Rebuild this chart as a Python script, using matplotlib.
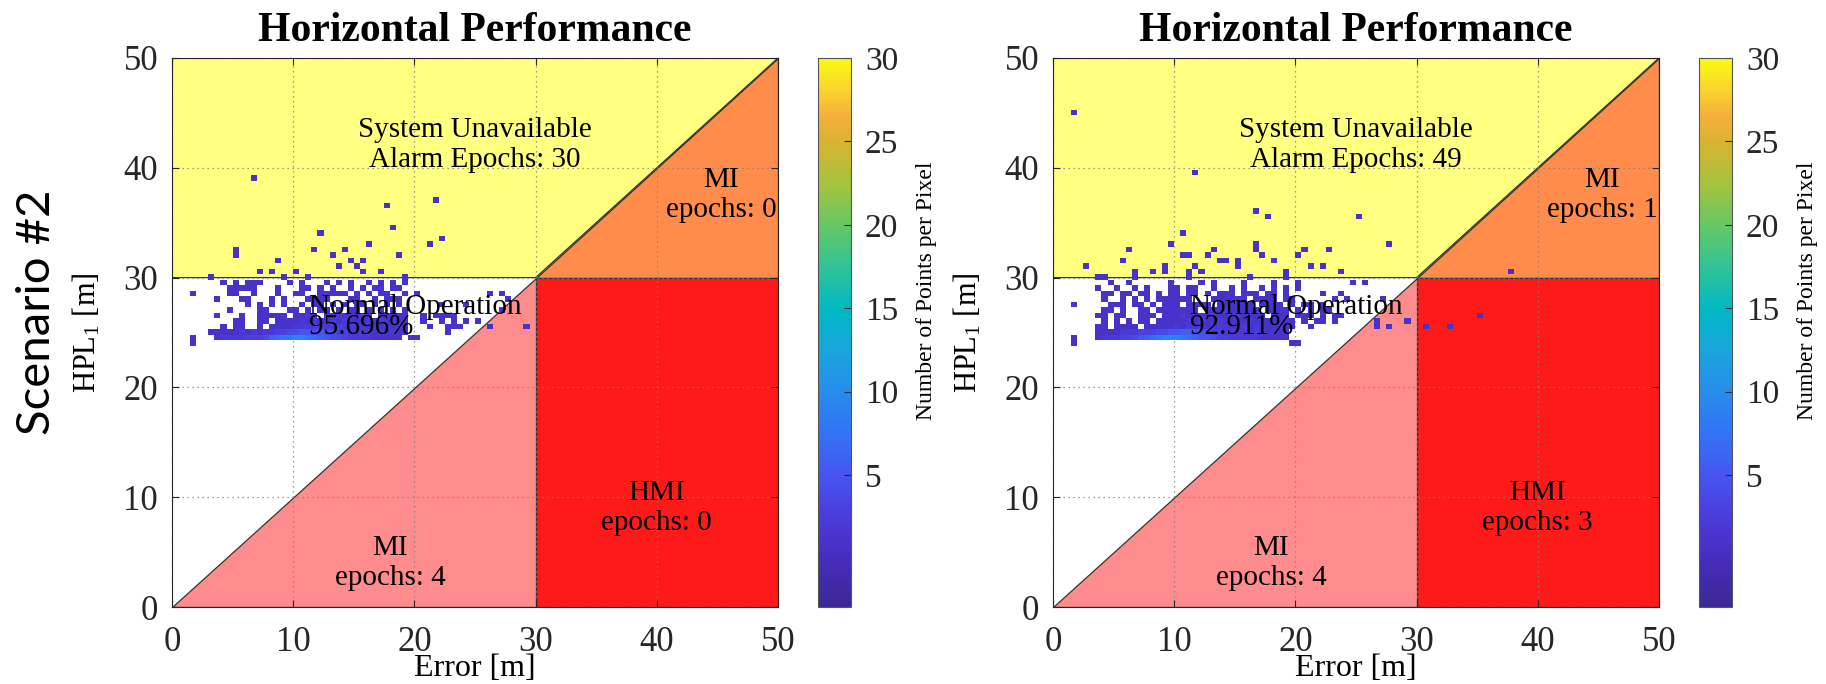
import numpy as np
import matplotlib
matplotlib.use('Agg')
import matplotlib.pyplot as plt
from matplotlib.colors import LinearSegmentedColormap, Normalize
from matplotlib.patches import Polygon

plt.rcParams['font.family'] = 'Liberation Serif'
plt.rcParams['mathtext.fontset'] = 'custom'
plt.rcParams['mathtext.rm'] = 'Liberation Serif'
plt.rcParams['mathtext.it'] = 'Liberation Serif:italic'

# ---- data ----------------------------------------------------------------
# dense part of the density plot: one string per HPL row, one char per 0.5 m
# error bin starting at 0 m ('.' = empty, digit = points in that pixel)
row_y = [30.0, 29.5, 29.0, 28.5, 28.0, 27.5, 27.0, 26.5, 26.0, 25.5, 25.0, 24.5, 24.0]

left_rows = [
    "......1..." "........1." "..1......." "........1." ".........." "..........",
    "........1." "1.111....1" ".1...1.1.1" "..1.1.1.1." ".........." "..........",
    ".........1" "1111...1.." ".11.1.1..1" ".1.11.11.." ".........." "..........",
    "...1.....1" "1..1...1.." "11..11111." "1.1.11..1." "1........." "..1.1.....",
    ".......1.." ".11...1.1." "..1111...1" "1..1.111.." ".........." ".....1....",
    ".........." "..1.1.1.1." ".1.11.1.1." "11.1.1.1.." "....1...1." "..........",
    ".........1" "....11...1" "1.1.11.1.1" "1.1.1.1.1." ".........." "....1.....",
    ".......1.." ".1..11111." "1121.11211" "121.11111." ".1.1111..." "..........",
    ".........." "11..11.111" "1212112121" "112121211." ".1..1.1.1." "1.........",
    "........1." "11..1.1111" "2222322322" "221212121." "..1..111.." "..1.....1.",
    "......1111" "1212122334" "4554544332" "222121211." ".....1...." "..........",
    "...1...122" "2233346788" "9987654432" "22211111.1" "1........." "..........",
    "...1......" ".........." ".........." ".........." ".........." "..........",
]

right_rows = [
    ".......11." "...1......" "..1......." "..1.....1." ".........." "..........",
    ".........1" "..1......1" "....1.1..." ".1....1..." "1........1" ".1........",
    ".......1.." "1..1.1...1" "1.11..1..1" ".1..1.1.1." "1........." "..........",
    "........11" ".11.11.1.1" "1.11.1.111" ".111.11.1." "....1..1.." "..........",
    "........1." ".1.1.1.111" "111...1111" "11.1111.11" "......1.1." "....1.....",
    "...1.....1" "11.11.1.11" "1.1111.111" "111.1111.1" ".11.1....." "..........",
    "........11" ".1..11.111" "1111.11121" "1111.1111." "1.1.11...." "..........",
    ".......11." "11..111.11" "1211112111" "21111.211." "111.1.11.." "..........",
    "........1." "1.1.11.111" "1121211211" "1121111111" ".1.11.1..." "...1....1.",
    ".......11." "1111.11111" "2122212221" "1212111211" "..1......." "...1.1....",
    ".......111" "1222333445" "5665543322" "222211111." ".........." "..........",
    "...1...122" "2334567899" "9876554332" "222211111." ".........." "..........",
    "...1......" ".........." ".........." ".........1" "1........." "..........",
]

# isolated pixels (error, HPL) in the alarm / MI / HMI regions
left_sparse_x = [6.7, 17.8, 18.3, 12.2, 16.3, 5.2, 5.2, 11.8, 14.2, 13.3, 18.8, 8.7,
                 14.8, 15.3, 15.8, 13.75, 7.3, 8.25, 10.2, 15.8, 17.3, 21.2, 21.8, 22.3]
left_sparse_y = [39.1, 36.6, 34.6, 34.1, 33.1, 32.6, 32.1, 32.6, 32.6, 32.1, 32.1, 31.6,
                 31.6, 31.1, 31.6, 31.1, 30.6, 30.6, 30.6, 30.6, 30.6, 33.1, 37.1, 33.6]

right_sparse_x = [1.8, 11.8, 16.8, 17.9, 25.4, 10.8, 9.8, 16.8, 16.8, 27.9, 6.3, 13.3,
                  20.9, 22.9, 10.8, 11.2, 12.8, 20.3, 17.3, 18.0, 18.4, 5.7, 13.9, 14.3,
                  15.4, 15.4, 2.6, 9.3, 9.3, 11.8, 21.4, 22.4, 6.85, 8.4, 11.2, 12.3,
                  19.4, 23.9, 37.5, 30.9, 32.9, 35.0]
right_sparse_y = [45.1, 39.7, 36.2, 35.6, 35.6, 34.1, 33.1, 33.1, 32.6, 33.1, 32.6, 32.6,
                  32.6, 32.6, 32.1, 32.1, 32.1, 32.1, 32.1, 31.6, 31.6, 31.6, 31.6, 31.6,
                  31.6, 31.1, 31.1, 31.1, 30.6, 31.1, 31.1, 31.1, 30.6, 30.6, 30.6, 30.6,
                  30.6, 30.6, 30.6, 25.6, 25.6, 26.6]

alarm_epochs = [30, 49]
mi_upper_epochs = [0, 1]
hmi_epochs = [0, 3]
mi_lower_epochs = [4, 4]
normal_pct = ['95.696%', '92.911%']

ALERT_LIMIT = 30
AX_MAX = 50
CBAR_MIN, CBAR_MAX = -2.9, 30
cbar_ticks = [5, 10, 15, 20, 25, 30]

# parula-like colormap
_stops = [(-2.9, (60, 40, 150)), (0, (70, 45, 190)), (2.5, (75, 60, 220)),
          (5, (70, 85, 240)), (7.5, (50, 115, 245)), (10, (40, 140, 235)),
          (12.5, (25, 165, 220)), (15, (0, 185, 195)), (17.5, (50, 195, 150)),
          (20, (100, 200, 100)), (22.5, (165, 195, 60)), (25, (215, 180, 50)),
          (26.5, (245, 175, 60)), (28, (250, 210, 45)), (30, (248, 250, 20))]
parula = LinearSegmentedColormap.from_list(
    'parula_like',
    [((v - CBAR_MIN) / (CBAR_MAX - CBAR_MIN), tuple(c / 255 for c in rgb)) for v, rgb in _stops])


def to_points(rows, sx, sy):
    xs, ys, cs = [], [], []
    for y, s in zip(row_y, rows):
        for i, ch in enumerate(s):
            if ch != '.':
                xs.append(0.25 + 0.5 * i)
                ys.append(y)
                cs.append(int(ch, 36))
    xs += sx
    ys += sy
    cs += [1] * len(sx)
    return np.array(xs), np.array(ys), np.array(cs)


def draw_panel(ax, cax, rows, sx, sy, k):
    L, M = ALERT_LIMIT, AX_MAX
    regions = [
        ([(0, L), (L, L), (M, M), (0, M)], '#FFFF80'),   # system unavailable
        ([(L, L), (M, L), (M, M)], '#FF8C4B'),            # MI (above limit)
        ([(L, 0), (M, 0), (M, L), (L, L)], '#FF1A1A'),    # HMI
        ([(0, 0), (L, 0), (L, L)], '#FF8C8C'),            # MI (below limit)
    ]
    for verts, col in regions:
        ax.add_patch(Polygon(verts, closed=True, facecolor=col, edgecolor='#333333',
                             linewidth=0.9, zorder=1))

    x, y, c = to_points(rows, sx, sy)
    xe = np.arange(0, M + 0.01, 0.5)
    ye = np.arange(-0.2, M + 0.31, 0.5)
    H, _, _ = np.histogram2d(x, y, bins=[xe, ye], weights=c)
    H = np.ma.masked_equal(H.T, 0)
    mesh = ax.pcolormesh(xe, ye, H, cmap=parula,
                         norm=Normalize(vmin=CBAR_MIN, vmax=CBAR_MAX), zorder=3)

    ax.set_xlim(0, M)
    ax.set_ylim(0, M)
    ax.set_xticks(range(0, 51, 10))
    ax.set_yticks(range(0, 51, 10))
    ax.set_axisbelow(False)
    ax.grid(True, linestyle=(0, (1, 3)), color='#808080', linewidth=0.9)
    ax.tick_params(direction='in', length=5, labelsize=25, pad=10, colors='#262626',
                   top=True, right=True)
    ax.tick_params(axis='x', pad=14)
    for sp in ax.spines.values():
        sp.set_color('#262626')
        sp.set_linewidth(0.8)
        sp.set_zorder(5)

    ax.set_title('Horizontal Performance', fontsize=30, fontweight='bold', pad=12)
    ax.set_xlabel('Error [m]', fontsize=23)
    ax.xaxis.set_label_coords(0.5, -0.086)
    ax.set_ylabel(r'HPL$_{\mathrm{1}}$ [m]', fontsize=22)
    ax.yaxis.set_label_coords(-0.114, 0.5)

    tk = dict(fontsize=21, zorder=4, color='black')
    ax.text(25, 42.1, 'System Unavailable\nAlarm Epochs: %d' % alarm_epochs[k],
            ha='center', va='center', **tk)
    ax.text(45.3, 37.5, 'MI\nepochs: %d' % mi_upper_epochs[k], ha='center', va='center', **tk)
    ax.text(40, 9.0, 'HMI\nepochs: %d' % hmi_epochs[k], ha='center', va='center', **tk)
    ax.text(18, 4.0, 'MI\nepochs: %d' % mi_lower_epochs[k], ha='center', va='center', **tk)
    ax.text(11.3, 26.4, 'Normal Operation\n' + normal_pct[k], ha='left', va='center',
            linespacing=0.7, **tk)

    cb = plt.colorbar(mesh, cax=cax, ticks=cbar_ticks)
    cb.outline.set_edgecolor('#555555')
    cb.outline.set_linewidth(0.8)
    cax.tick_params(direction='in', length=5, labelsize=24, pad=10, colors='#262626')
    cb.set_label('Number of Points per Pixel', fontsize=17)
    cax.yaxis.set_label_coords(2.97, 0.576)


fig = plt.figure(figsize=(18.26, 6.84), dpi=100)
W, Hpx = 1826, 684
axL = fig.add_axes([172 / W, 77 / Hpx, 606 / W, 549 / Hpx])
caxL = fig.add_axes([818 / W, 77 / Hpx, 33 / W, 549 / Hpx])
axR = fig.add_axes([1053 / W, 77 / Hpx, 606 / W, 549 / Hpx])
caxR = fig.add_axes([1699 / W, 77 / Hpx, 33 / W, 549 / Hpx])

draw_panel(axL, caxL, left_rows, left_sparse_x, left_sparse_y, 0)
draw_panel(axR, caxR, right_rows, right_sparse_x, right_sparse_y, 1)

fig.text(37 / W, 1 - 312 / Hpx, 'Scenario #2', rotation=90, ha='center', va='center',
         fontsize=34, family='Lato')

fig.savefig('out.png', dpi=100, facecolor='white')
